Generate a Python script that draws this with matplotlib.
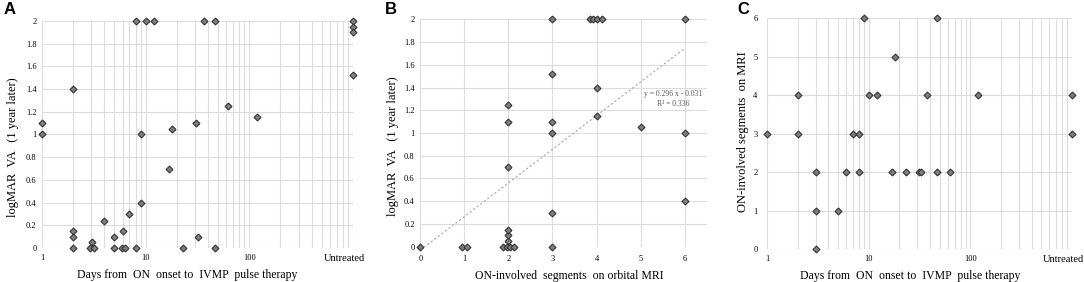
import matplotlib
matplotlib.use("Agg")
import matplotlib.pyplot as plt
import matplotlib.transforms as mtransforms
import numpy as np
from matplotlib.ticker import FixedLocator, NullFormatter

plt.rcParams['font.family'] = ['Liberation Serif', 'DejaVu Serif']

UNTREATED = 1000

# panel A: days from onset -> logMAR VA (1 year later)
a_days = [1, 1, 2, 2, 2, 2, 2.9, 3.05, 3.2, 4, 5, 5, 6, 5.9, 6.3, 7, 8, 8, 9, 9,
          10, 12, 17, 18, 23, 31, 32, 37, 47, 47, 63, 120,
          UNTREATED, UNTREATED, UNTREATED, UNTREATED]
a_va = [1.1, 1.0, 1.4, 0.15, 0.1, 0.0, 0.0, 0.05, 0.0, 0.24, 0.1, 0.0, 0.15, 0.0, 0.0, 0.3, 2.0, 0.0, 1.0, 0.4,
        2.0, 2.0, 0.7, 1.05, 0.0, 1.1, 0.1, 2.0, 2.0, 0.0, 1.25, 1.15,
        2.0, 1.95, 1.9, 1.52]

# panel B: involved segments -> logMAR VA
b_seg = [0, 0.95, 1.05, 1.88, 1.96, 2.04, 2.12, 2, 2, 2, 2, 2, 2,
         3, 3, 3, 3, 3, 3, 3.85, 3.93, 4.01, 4.12, 4, 4, 5, 6, 6, 6]
b_va = [0.0, 0.0, 0.0, 0.0, 0.0, 0.0, 0.0, 0.05, 0.1, 0.15, 0.7, 1.1, 1.25,
        0.0, 0.3, 1.0, 1.1, 1.52, 2.0, 2.0, 2.0, 2.0, 2.0, 1.15, 1.4, 1.05, 0.4, 1.0, 2.0]
fit_slope, fit_icpt = 0.296, -0.031

# panel C: days from onset -> involved segments
c_days = [1, 2, 2, 3, 3, 3, 5, 6, 7, 8, 8, 9, 10, 12, 17, 18, 23, 31, 33, 37, 47, 47, 63, 120,
          UNTREATED, UNTREATED]
c_seg = [3, 4, 3, 2, 1, 0, 1, 2, 3, 3, 2, 6, 4, 4, 2, 5, 2, 2, 2, 4, 6, 2, 2, 4,
         4, 3]

va_ticks = ['0', '0.2', '0.4', '0.6', '0.8', '1', '1.2', '1.4', '1.6', '1.8', '2']

mk = dict(ls='none', marker='D', markersize=3.5, mfc='#7f7f7f', mec='#333333',
          mew=0.8, clip_on=False, zorder=3)
grid_c = '#dcdcdc'


def style(ax, ypad=4, xpad=4):
    for s in ax.spines.values():
        s.set_visible(False)
    ax.tick_params(which='both', length=0, labelsize=6)
    ax.tick_params(axis='y', pad=ypad)
    ax.tick_params(axis='x', pad=xpad)
    ax.grid(True, which='both', color=grid_c, lw=0.8, zorder=0)
    ax.set_axisbelow(True)


def labels(ax, xl, yl, xpos, ypos):
    ax.set_xlabel(xl, fontsize=8.5, va='center')
    ax.xaxis.set_label_coords(*xpos)
    ax.set_ylabel(yl, fontsize=9, va='center')
    ax.yaxis.set_label_coords(*ypos)


def log_days_axis(ax):
    ax.set_xscale('log')
    ax.set_xlim(1, UNTREATED)
    ax.xaxis.set_major_locator(FixedLocator([1, 10, 100, UNTREATED]))
    minors = [m * d for d in (1, 10, 100) for m in range(2, 10)]
    ax.xaxis.set_minor_locator(FixedLocator(minors))
    ax.xaxis.set_minor_formatter(NullFormatter())
    ax.set_xticklabels(['1', '10', '100', 'Untreated'])
    last = ax.get_xticklabels()[-1]
    last.set_fontsize(7.5)
    last.set_ha('right')
    shift = mtransforms.ScaledTranslation(12 / 100, 0, fig.dpi_scale_trans)
    last.set_transform(last.get_transform() + shift)


fig = plt.figure(figsize=(10.84, 2.82), dpi=100)

axA = fig.add_axes([0.0387, 0.1206, 0.2867, 0.8049])
style(axA)
axA.plot(a_days, a_va, **mk)
log_days_axis(axA)
axA.set_ylim(0, 2)
axA.set_yticks(np.arange(0, 2.01, 0.2))
axA.set_yticklabels(va_ticks)
labels(axA, 'Days from  ON  onset to  IVMP  pulse therapy', 'logMAR  VA   (1 year later)',
       (0.467, -0.119), (-0.093, 0.445))

axB = fig.add_axes([0.3877, 0.1252, 0.2642, 0.8062])
style(axB, xpad=6)
xs = np.array([0, 6])
axB.plot(xs, fit_slope * xs + fit_icpt, ls=(0, (2, 2)), color='#a6a6a6', lw=0.8, zorder=2)
axB.plot(b_seg, b_va, **mk)
axB.set_xlim(0, 6.5)
axB.set_xticks(range(0, 7))
axB.set_ylim(0, 2)
axB.set_yticks(np.arange(0, 2.01, 0.2))
axB.set_yticklabels(va_ticks)
labels(axB, 'ON-involved  segments  on orbital MRI', 'logMAR  VA   (1 year later)',
       (0.521, -0.129), (-0.095, 0.441))
axB.text(5.75, 1.34, 'y = 0.296 x - 0.031', fontsize=5.5, color='#595959', ha='center', va='center')
axB.text(5.75, 1.255, 'R² = 0.336', fontsize=5.5, color='#595959', ha='center', va='center')

axC = fig.add_axes([0.7078, 0.1160, 0.2811, 0.8202])
style(axC, ypad=7)
axC.plot(c_days, c_seg, **mk)
log_days_axis(axC)
axC.set_ylim(0, 6)
axC.set_yticks(range(0, 7))
labels(axC, 'Days from  ON  onset to  IVMP  pulse therapy', 'ON-involved segments  on MRI',
       (0.47, -0.115), (-0.080, 0.507))

for lab, x in (('A', 0.003), ('B', 0.355), ('C', 0.680)):
    fig.text(x, 0.968, lab, fontsize=12, fontweight='bold', family='Liberation Sans',
             ha='left', va='center')

fig.savefig('out.png', dpi=100)
